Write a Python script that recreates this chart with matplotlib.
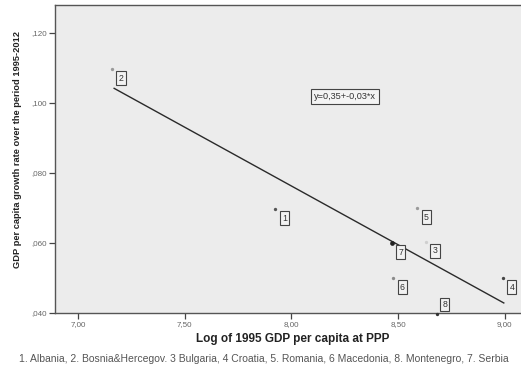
import matplotlib
matplotlib.use("Agg")
import matplotlib.pyplot as plt
import numpy as np

plt.rcParams['font.family'] = ['Liberation Sans', 'DejaVu Sans']

# Country numbers, log of 1995 GDP per capita (PPP) and 1995-2012 growth rate
point_labels = ["2", "1", "5", "7", "3", "6", "4", "8"]
log_gdp_1995 = [7.16, 7.925, 8.59, 8.47, 8.63, 8.477, 8.99, 8.68]
growth_rate = [0.1097, 0.0697, 0.0700, 0.0600, 0.0603, 0.0500, 0.0500, 0.0398]
marker_shades = ["#9a9a9a", "#555555", "#9a9a9a", "#222222", "#cfcfcf", "#8a8a8a", "#444444", "#333333"]
# tag placement relative to each point (points): below-right, except one above-right
tag_offsets = [(6.5, -6.5)] * 7 + [(6.0, 6.5)]

# Fitted linear trend
fit_intercept = 0.3451
fit_slope = -0.0336
fit_range = [7.17, 8.995]

x_ticks = [7.00, 7.50, 8.00, 8.50, 9.00]
y_ticks = [0.040, 0.060, 0.080, 0.100, 0.120]

footnote = ("1. Albania, 2. Bosnia&Hercegov. 3 Bulgaria, 4 Croatia, 5. Romania, "
            "6 Macedonia, 8. Montenegro, 7. Serbia")

W, H = 521, 369
fig = plt.figure(figsize=(W / 100, H / 100), dpi=100)
ax_w = 1 - 55 / W + 0.01
ax = fig.add_axes([55 / W, 1 - 313 / H, ax_w, 308 / H])
ax.set_facecolor("#ececec")

ax.set_xlim(6.893, 9.10)
ax.set_ylim(0.040, 0.128)

# regression line
xf = np.array(fit_range)
ax.plot(xf, fit_intercept + fit_slope * xf, color="#2a2a2a", lw=1.0, zorder=2)

# points and their numbered tags
for lab, xv, yv, c, off in zip(point_labels, log_gdp_1995, growth_rate,
                               marker_shades, tag_offsets):
    ax.plot(xv, yv, marker="o", ms=3.4 if c == "#222222" else 2.4, color=c,
            mec="none", zorder=3, clip_on=False)
    ax.annotate(lab, (xv, yv), xytext=off, textcoords="offset points",
                fontsize=6.3, color="#333333", ha="center", va="center",
                bbox=dict(boxstyle="square,pad=0.25", fc="#f2f2f2", ec="#444444", lw=0.8),
                zorder=4, annotation_clip=False)

eq = "y={:.2f}+{:.2f}*x".format(fit_intercept, fit_slope).replace(".", ",")
ax.text(8.251, 0.1019, eq, fontsize=6.6, color="#333333", ha="center", va="center",
        bbox=dict(boxstyle="square,pad=0.3", fc="#f4f4f4", ec="#444444", lw=0.8))

ax.set_xticks(x_ticks)
ax.set_xticklabels(["{:.2f}".format(v).replace(".", ",") for v in x_ticks],
                   fontsize=5.8, color="#666666")
ax.set_yticks(y_ticks)
ax.set_yticklabels(["{:.3f}".format(v)[1:].replace(".", ",") for v in y_ticks],
                   fontsize=5.8, color="#666666")
ax.tick_params(axis="both", length=4, width=0.9, color="#444444", pad=2)

for side in ("left", "bottom", "top"):
    ax.spines[side].set_color("#555555")
    ax.spines[side].set_linewidth(1.0)
ax.spines["right"].set_visible(False)

ax.set_xlabel("Log of 1995 GDP per capita at PPP", fontsize=8.5, fontweight="bold",
              color="#222222")
ax.xaxis.set_label_coords((293 - 55) / (W * ax_w), (313 - 333) / 308)
ax.set_ylabel("GDP per capita growth rate over the period 1995-2012", fontsize=6.7,
              fontweight="bold", color="#222222")
ax.yaxis.set_label_coords((22 - 55) / (W * ax_w), (313 - 150) / 308)

fig.text(264 / W, 1 - 359 / H, footnote, fontsize=7.5, color="#555555",
         ha="center", va="center")

fig.savefig("out.png", dpi=100)
